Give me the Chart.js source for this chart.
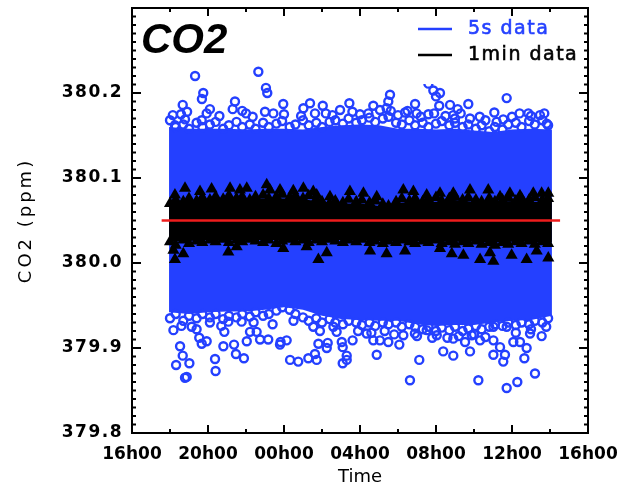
<!DOCTYPE html>
<html>
<head>
<meta charset="utf-8">
<script src="https://cdn.jsdelivr.net/npm/chart.js@4/dist/chart.umd.min.js"></script>
<style>
html,body{margin:0;padding:0;background:#fff;}
canvas{display:block;}
</style>
</head>
<body>
<canvas id="c" width="621" height="488"></canvas>
<script>
// ---- data (time in hours after 16h00 of day 1) ----
const xTickLabels = ['16h00','20h00','00h00','04h00','08h00','12h00','16h00'];
const yTickLabels = ['379.8','379.9','380.0','380.1','380.2'];

// dense core of the 5s / 1min clouds (upper and lower envelopes)
const envTimes   = [1.95,3,4,5,6,7,8,9,10,11,12,13,14,15,16,17,18,19,20,21,22.1];
const blueUpper  = [380.160,380.158,380.158,380.158,380.157,380.158,380.158,380.157,380.160,380.162,380.163,380.162,380.158,380.158,380.157,380.158,380.156,380.154,380.157,380.158,380.157];
const blueLower  = [379.942,379.940,379.942,379.943,379.943,379.945,379.948,379.945,379.938,379.934,379.933,379.932,379.932,379.928,379.926,379.927,379.927,379.930,379.932,379.933,379.938];
const blackUpper = [380.070,380.074,380.074,380.076,380.076,380.076,380.076,380.075,380.072,380.070,380.070,380.067,380.071,380.072,380.072,380.074,380.072,380.072,380.073,380.072,380.072];
const blackLower = [380.025,380.026,380.027,380.027,380.027,380.027,380.027,380.027,380.027,380.027,380.027,380.026,380.026,380.026,380.025,380.025,380.025,380.024,380.025,380.025,380.024];

// samples along the edges of the clouds
const edgeTimes = [2.0,2.3,2.7,3.0,3.4,3.7,4.1,4.4,4.8,5.1,5.5,5.8,6.2,6.5,6.9,7.2,7.6,7.9,8.3,8.6,9.0,9.3,9.7,10.0,10.4,10.7,11.1,11.4,11.8,12.1,12.5,12.8,13.2,13.5,13.9,14.2,14.6,14.9,15.3,15.6,16.0,16.3,16.7,17.0,17.4,17.7,18.1,18.4,18.8,19.1,19.5,19.8,20.2,20.5,20.9,21.2,21.6,21.9];
const blueTopEdge = [380.168,380.160,380.163,380.158,380.165,380.160,380.163,380.166,380.158,380.162,380.166,380.160,380.163,380.158,380.165,380.160,380.164,380.167,380.160,380.163,380.168,380.162,380.165,380.160,380.166,380.168,380.164,380.170,380.165,380.168,380.171,380.166,380.170,380.172,380.165,380.163,380.168,380.162,380.165,380.160,380.164,380.167,380.162,380.165,380.160,380.163,380.158,380.162,380.155,380.160,380.157,380.163,380.165,380.160,380.167,380.163,380.168,380.162];
const blueBottomEdge = [379.935,379.940,379.932,379.938,379.935,379.940,379.936,379.940,379.934,379.938,379.936,379.940,379.937,379.942,379.938,379.940,379.944,379.948,379.945,379.940,379.936,379.932,379.935,379.930,379.934,379.930,379.928,379.932,379.930,379.927,379.930,379.926,379.930,379.928,379.930,379.925,379.928,379.925,379.922,379.925,379.920,379.924,379.921,379.925,379.920,379.923,379.926,379.922,379.925,379.928,379.926,379.930,379.927,379.930,379.928,379.932,379.930,379.935];
const blackTopEdge = [380.070,380.074,380.072,380.076,380.073,380.077,380.074,380.078,380.075,380.079,380.076,380.078,380.074,380.078,380.080,380.076,380.078,380.081,380.077,380.079,380.076,380.079,380.075,380.072,380.070,380.073,380.071,380.075,380.072,380.074,380.071,380.073,380.069,380.067,380.072,380.076,380.073,380.076,380.072,380.075,380.077,380.073,380.076,380.078,380.074,380.077,380.074,380.072,380.076,380.072,380.074,380.077,380.073,380.076,380.074,380.077,380.074,380.076];
const blackBottomEdge = [380.025,380.021,380.027,380.023,380.026,380.024,380.027,380.025,380.028,380.024,380.027,380.025,380.028,380.026,380.024,380.027,380.023,380.026,380.028,380.025,380.027,380.024,380.027,380.025,380.028,380.026,380.024,380.027,380.025,380.028,380.024,380.026,380.023,380.026,380.024,380.027,380.025,380.023,380.026,380.024,380.027,380.023,380.025,380.022,380.025,380.023,380.026,380.022,380.024,380.021,380.024,380.022,380.025,380.023,380.026,380.022,380.025,380.023];

// isolated samples outside the dense clouds [time, ppm]
const blueHigh = [[3.32,380.220],[6.65,380.225],[7.05,380.206],[7.12,380.200],[3.75,380.200],[3.68,380.193],[2.67,380.186],[2.58,380.175],[2.79,380.169],[2.26,380.162],[5.42,380.190],[5.30,380.181],[5.80,380.179],[4.10,380.181],[3.93,380.176],[3.67,380.168],[7.00,380.178],[7.44,380.176],[7.96,380.187],[9.37,380.188],[9.02,380.182],[9.63,380.176],[10.04,380.185],[11.44,380.188],[10.95,380.180],[12.70,380.185],[12.44,380.176],[13.05,380.180],[13.58,380.198],[13.49,380.190],[13.40,380.182],[13.62,380.179],[15.60,380.211],[15.86,380.203],[16.21,380.200],[16.00,380.196],[14.90,380.187],[14.98,380.176],[14.37,380.177],[15.60,380.175],[16.17,380.185],[16.74,380.186],[17.14,380.181],[17.70,380.187],[16.91,380.174],[17.00,380.170],[17.79,380.170],[19.72,380.194],[19.75,380.218],[19.07,380.177],[19.54,380.169],[19.19,380.166],[20.86,380.176],[21.47,380.174],[21.83,380.164],
  [2.15,380.174],[2.90,380.178],[4.60,380.173],[6.00,380.176],[6.35,380.172],[8.00,380.175],[8.90,380.173],[10.20,380.176],[10.55,380.174],[11.60,380.178],[12.00,380.175],[14.00,380.174],[14.50,380.179],[15.20,380.172],[15.90,380.176],[16.50,380.173],[17.30,380.176],[18.30,380.172],[18.60,380.168],[20.00,380.172],[20.40,380.176],[21.00,380.173],[21.70,380.176]];
const blueLow = [[2.18,379.921],[2.53,379.902],[2.67,379.891],[2.32,379.880],[3.02,379.882],[2.79,379.865],[2.88,379.866],[3.14,379.925],[3.54,379.912],[3.93,379.908],[3.67,379.905],[4.10,379.930],[4.37,379.887],[4.40,379.873],[4.86,379.919],[4.81,379.902],[5.37,379.904],[5.47,379.893],[5.89,379.888],[5.07,379.931],[5.77,379.931],[6.21,379.919],[6.04,379.908],[6.74,379.910],[7.17,379.910],[6.56,379.919],[7.79,379.904],[7.82,379.907],[8.14,379.909],[8.32,379.886],[8.75,379.884],[9.28,379.888],[9.63,379.893],[9.72,379.886],[9.81,379.905],[10.30,379.906],[10.25,379.900],[9.54,379.925],[9.89,379.920],[10.60,379.925],[10.77,379.919],[11.04,379.907],[11.09,379.901],[11.30,379.891],[11.30,379.886],[11.09,379.882],[11.61,379.909],[12.88,379.892],[12.70,379.909],[13.05,379.909],[12.35,379.917],[13.49,379.907],[14.07,379.904],[14.63,379.862],[15.12,379.886],[14.28,379.915],[14.89,379.917],[15.51,379.921],[16.04,379.915],[16.38,379.896],[16.91,379.891],[16.91,379.911],[17.53,379.907],[17.79,379.896],[18.32,379.909],[17.88,379.915],[18.23,379.862],[19.02,379.892],[19.63,379.892],[19.54,379.884],[19.37,379.901],[19.02,379.909],[19.72,379.853],[20.28,379.860],[20.65,379.888],[20.77,379.900],[20.42,379.907],[20.07,379.907],[21.21,379.870],[21.56,379.914],[20.95,379.917],[19.02,379.925],[19.72,379.925],
  [2.60,379.926],[3.40,379.922],[4.70,379.926],[6.40,379.930],[7.40,379.928],[8.50,379.932],[11.90,379.920],[12.60,379.918],[13.30,379.920],[13.80,379.916],[15.00,379.914],[15.80,379.912],[16.60,379.912],[17.20,379.914],[18.00,379.916],[18.60,379.913],[20.20,379.918],[21.00,379.922],[21.80,379.925]];
const blackHigh = [[2.79,380.088],[2.26,380.080],[3.58,380.084],[4.19,380.087],[5.16,380.088],[5.68,380.086],[6.04,380.088],[7.09,380.092],[7.26,380.086],[7.79,380.086],[8.49,380.085],[9.02,380.088],[9.54,380.084],[9.72,380.080],[10.42,380.078],[11.47,380.084],[12.18,380.082],[12.88,380.078],[14.28,380.086],[14.81,380.084],[15.51,380.080],[16.21,380.082],[16.91,380.082],[17.79,380.086],[18.75,380.086],[19.37,380.078],[19.89,380.082],[20.42,380.079],[21.12,380.082],[21.56,380.082],[21.91,380.082]];
const blackLow = [[2.26,380.004],[2.70,380.011],[2.18,380.015],[5.07,380.013],[5.51,380.019],[7.96,380.017],[9.19,380.019],[9.81,380.004],[10.25,380.012],[12.53,380.014],[13.40,380.011],[14.37,380.014],[16.21,380.017],[16.83,380.011],[17.44,380.009],[18.32,380.004],[19.02,380.002],[18.84,380.012],[19.98,380.009],[20.77,380.004],[21.30,380.014],[21.91,380.006]];

// mean level (red line)
const meanLevel = 380.05;
const meanSpan = [1.56, 22.53];

// ---- build chart ----
const BLUE = 'rgb(36,64,255)';
const BLACK = '#000000';
const RED = 'rgb(238,28,28)';

const pts = (ts, vs) => ts.map((t, i) => ({x: t, y: vs[i]}));
const pairs = (arr) => arr.map(p => ({x: p[0], y: p[1]}));

const bluePoints = pts(edgeTimes, blueTopEdge).concat(pts(edgeTimes, blueBottomEdge), pairs(blueHigh), pairs(blueLow));
const blackPoints = pts(edgeTimes, blackTopEdge).concat(pts(edgeTimes, blackBottomEdge), pairs(blackHigh), pairs(blackLow));

const datasets = [
  { label: 'mean', data: meanSpan.map(t => ({x: t, y: meanLevel})), showLine: true, borderColor: RED, borderWidth: 2.5, pointRadius: 0, fill: false, order: 0 },
  { label: '1min data', legend: true, data: blackPoints, pointStyle: 'triangle', pointRadius: 7, backgroundColor: BLACK, borderColor: BLACK, borderWidth: 0, order: 1 },
  { label: 'black upper', data: pts(envTimes, blackUpper), showLine: true, borderWidth: 0, borderColor: BLACK, backgroundColor: BLACK, pointRadius: 0, fill: '+1', order: 2 },
  { label: 'black lower', data: pts(envTimes, blackLower), showLine: true, borderWidth: 0, borderColor: BLACK, pointRadius: 0, fill: false, order: 2 },
  { label: '5s data', legend: true, data: bluePoints, pointStyle: 'circle', pointRadius: 4, backgroundColor: 'rgba(0,0,0,0)', borderColor: BLUE, borderWidth: 2.4, order: 3 },
  { label: 'blue upper', data: pts(envTimes, blueUpper), showLine: true, borderWidth: 0, borderColor: BLUE, backgroundColor: BLUE, pointRadius: 0, fill: '+1', order: 4 },
  { label: 'blue lower', data: pts(envTimes, blueLower), showLine: true, borderWidth: 0, borderColor: BLUE, pointRadius: 0, fill: false, order: 4 }
];

const FONT = '"DejaVu Sans", sans-serif';

const spaced = (scale, fnName, spacing) => {
  if (scale['_sp_' + fnName]) return;
  const orig = scale[fnName].bind(scale);
  scale[fnName] = function (...args) {
    const ctx = scale.ctx;
    ctx.save();
    if ('letterSpacing' in ctx) ctx.letterSpacing = spacing;
    orig(...args);
    ctx.restore();
  };
  scale['_sp_' + fnName] = true;
};

const frame = {
  id: 'frame',
  beforeDraw(chart) {
    spaced(chart.scales.y, 'drawTitle', '3px');
    spaced(chart.scales.y, 'drawLabels', '1.5px');
  },
  afterDatasetsDraw(chart) {
    const ctx = chart.ctx;
    const a = chart.chartArea;
    const xs = chart.scales.x, ys = chart.scales.y;
    ctx.save();
    // legend box
    ctx.fillStyle = '#fff';
    ctx.fillRect(410, a.top + 1, a.right - 411, 75);
    const legendItems = chart.data.datasets.filter(d => d.legend);
    legendItems.reverse();
    ctx.font = '19px ' + FONT;
    ctx.textBaseline = 'middle';
    ctx.textAlign = 'left';
    legendItems.forEach((d, i) => {
      const y = 29 + i * 26;
      const col = d.borderColor === BLACK ? BLACK : BLUE;
      ctx.strokeStyle = col;
      ctx.lineWidth = 2.5;
      ctx.beginPath(); ctx.moveTo(418, y); ctx.lineTo(452, y); ctx.stroke();
      ctx.fillStyle = col;
      if ('letterSpacing' in ctx) ctx.letterSpacing = '1.5px';
      ctx.fillText(d.label, 468, y);
      ctx.lineWidth = 0.6; ctx.strokeStyle = col;
      ctx.strokeText(d.label, 468, y);
      if ('letterSpacing' in ctx) ctx.letterSpacing = '0px';
    });
    // frame
    ctx.strokeStyle = '#000';
    ctx.lineWidth = 2;
    ctx.strokeRect(a.left, a.top, a.right - a.left, a.bottom - a.top);
    // inward ticks
    ctx.lineWidth = 2;
    ctx.beginPath();
    for (let t = 0; t <= 24; t += 2) {
      const px = xs.getPixelForValue(t);
      const len = (t % 4 === 0) ? 8 : 4;
      ctx.moveTo(px, a.bottom); ctx.lineTo(px, a.bottom - len);
      ctx.moveTo(px, a.top); ctx.lineTo(px, a.top + len);
    }
    for (let k = 0; k <= 50; k++) {
      const v = 379.8 + k * 0.01;
      const py = ys.getPixelForValue(v);
      const len = (k % 10 === 0) ? 9 : 4;
      ctx.moveTo(a.left, py); ctx.lineTo(a.left + len, py);
      ctx.moveTo(a.right, py); ctx.lineTo(a.right - len, py);
    }
    ctx.stroke();
    // panel title
    ctx.fillStyle = '#000';
    ctx.font = 'italic bold 42px "Liberation Sans", Arial, sans-serif';
    ctx.textBaseline = 'alphabetic';
    ctx.textAlign = 'left';
    ctx.fillText('CO2', 141, 53);
    ctx.restore();
  }
};

const noPad = s => { s.paddingTop = 0; s.paddingBottom = 0; s.paddingLeft = 0; s.paddingRight = 0; };
const tickFont = { family: FONT, size: 18, weight: 'bold' };

new Chart(document.getElementById('c'), {
  type: 'scatter',
  data: { datasets },
  options: {
    responsive: false,
    animation: false,
    devicePixelRatio: 1,
    layout: { padding: { left: 0, right: 33, top: 8, bottom: 0 } },
    plugins: { legend: { display: false }, tooltip: { enabled: false } },
    scales: {
      x: {
        type: 'linear', min: 0, max: 24,
        grid: { display: false, drawTicks: false },
        border: { display: false },
        ticks: { stepSize: 4, padding: 11, color: '#000', font: { family: FONT, size: 17, weight: 'bold' },
          callback: (v, i) => xTickLabels[i] ?? '' , maxRotation: 0, autoSkip: false },
        title: { display: true, text: 'Time', color: '#000', font: { family: FONT, size: 18 }, padding: { top: 0, bottom: 0 } },
        afterFit: s => { s.height = 55; noPad(s); }
      },
      y: {
        type: 'linear', min: 379.8, max: 380.3,
        grid: { display: false, drawTicks: false },
        border: { display: false },
        ticks: { stepSize: 0.1, padding: 9, color: '#000', font: { family: FONT, size: 17, weight: 'bold' },
          callback: (v, i) => yTickLabels[i] ?? '' },
        title: { display: true, text: 'CO2 (ppm)', color: '#000', font: { family: FONT, size: 18 }, padding: { top: 16, bottom: 0 } },
        afterFit: s => { s.width = 132; noPad(s); }
      }
    }
  },
  plugins: [frame]
});
</script>
</body>
</html>
